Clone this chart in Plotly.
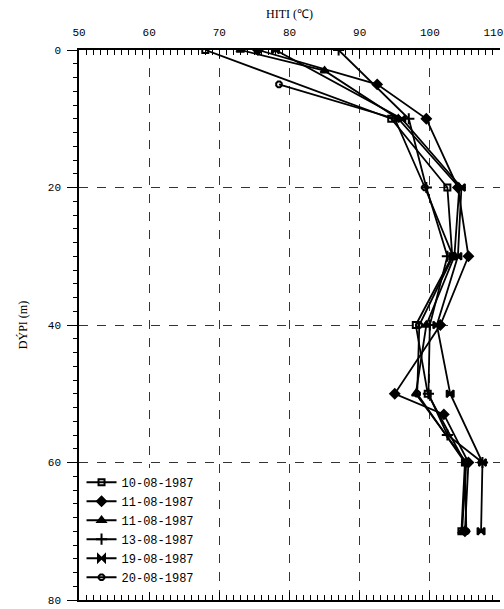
import plotly.graph_objects as go

labels = ["10-08-1987", "11-08-1987", "11-08-1987", "13-08-1987", "19-08-1987", "20-08-1987"]

depth_1 = [0, 10, 20, 30, 40, 50, 60, 70]
temp_1 = [68, 94.5, 102.5, 103.2, 98, 99.7, 105, 104.5]

depth_2 = [0, 5, 10, 20, 30, 40, 50, 53, 60, 70]
temp_2 = [75.5, 92.5, 99.5, 104, 105.5, 101.5, 95, 102, 105.5, 105]

depth_3 = [0, 3, 10, 20, 30, 40, 50, 60, 70]
temp_3 = [73, 85, 95.5, 104.2, 103.5, 99.5, 98, 105.2, 104.6]

depth_4 = [0, 10, 20, 30, 40, 50, 56, 60]
temp_4 = [87, 97, 99.5, 102.5, 100, 99.8, 102.5, 107.5]

depth_5 = [0, 10, 20, 30, 40, 50, 60, 70]
temp_5 = [78, 96, 104.5, 104, 101, 102.9, 107.5, 107.3]

depth_6 = [5, 10, 20, 30, 40, 50, 60, 70]
temp_6 = [78.5, 95, 99.3, 103.3, 98.5, 98.2, 105, 105.2]

x_ticks = [50, 60, 70, 80, 90, 100, 110]
x_tick_text = ["50", "60", "70", "80", "90", "100", "110\u00a0\u00a0"]
y_ticks = [0, 20, 40, 60, 80]

series = [
    (temp_1, depth_1, "square-open", 6),
    (temp_2, depth_2, "diamond", 7),
    (temp_3, depth_3, "triangle-up", 7),
    (temp_4, depth_4, "cross-thin-open", 8),
    (temp_5, depth_5, "bowtie", 7),
    (temp_6, depth_6, "octagon-open", 6),
]

fig = go.Figure()
for (t, d, sym, sz), lab in zip(series, labels):
    fig.add_trace(go.Scatter(
        x=t, y=d, mode="lines+markers", name=lab,
        line=dict(color="black", width=1.8),
        marker=dict(symbol=sym, size=sz, color="black",
                    line=dict(color="black", width=2)),
    ))

font_mono = "Liberation Mono"
fig.update_layout(
    width=504, height=609,
    margin=dict(l=79, r=4, t=50, b=9),
    paper_bgcolor="white", plot_bgcolor="white",
    font=dict(family=font_mono, size=11, color="black"),
    showlegend=True,
    legend=dict(x=0.006, y=0.2405, xanchor="left", yanchor="top",
                bgcolor="white", font=dict(size=12, family=font_mono),
                tracegroupgap=0, itemwidth=30),
    xaxis=dict(
        side="top", range=[50, 110], tickvals=x_ticks, ticktext=x_tick_text,
        automargin=False,
        ticks="inside", ticklen=8, tickwidth=1.2, tickcolor="black",
        ticklabelstandoff=8, ticklabeloverflow="allow",
        minor=dict(dtick=1, ticks="inside", ticklen=5, tickcolor="black", showgrid=False),
        showline=True, linecolor="black", linewidth=1.5, mirror="allticks",
        showgrid=True, gridcolor="#333", griddash="dash", gridwidth=1,
        zeroline=False,
        title=dict(text="HITI (℃)", font=dict(family="Liberation Serif", size=12), standoff=6),
        tickfont=dict(family=font_mono, size=11),
    ),
    yaxis=dict(
        range=[80, 0], tickvals=y_ticks, automargin=False,
        ticks="outside", ticklen=10, tickwidth=1.2, tickcolor="black",
        ticklabelstandoff=4, ticklabeloverflow="allow",
        minor=dict(dtick=2, ticks="outside", ticklen=4, tickcolor="black", showgrid=False),
        showline=True, linecolor="black", linewidth=1.5,
        showgrid=True, gridcolor="#333", griddash="dash", gridwidth=1,
        zeroline=False,
        title=dict(text="DÝPI (m)", font=dict(family="Liberation Serif", size=12), standoff=18),
        tickfont=dict(family=font_mono, size=11),
    ),
    yaxis2=dict(
        overlaying="y", side="right", range=[80, 0], tickvals=y_ticks, automargin=False,
        ticks="inside", ticklen=8, tickcolor="black", showticklabels=False,
        minor=dict(dtick=2, ticks="inside", ticklen=4, tickcolor="black"),
        showline=True, linecolor="black", linewidth=1.5,
        showgrid=False, zeroline=False,
    ),
)

fig.write_html(
    "out.html",
    config={"displayModeBar": False},
    post_script="document.body.style.margin='0';document.body.style.overflow='hidden';",
)
